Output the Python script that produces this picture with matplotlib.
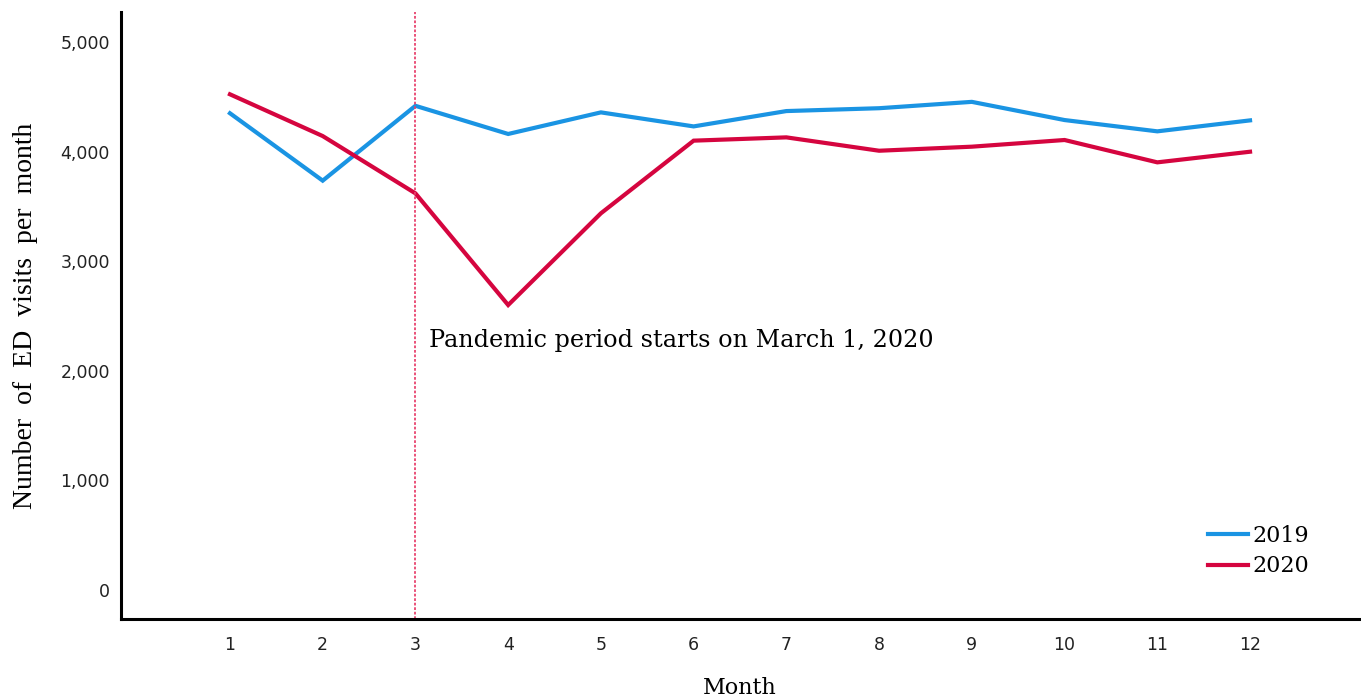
import matplotlib
matplotlib.use("Agg")
import matplotlib.pyplot as plt
from matplotlib.ticker import FuncFormatter

months = [1, 2, 3, 4, 5, 6, 7, 8, 9, 10, 11, 12]
visits_2019 = [4350, 3735, 4418, 4161, 4358, 4230, 4370, 4396, 4454, 4288, 4185, 4285]
visits_2020 = [4523, 4142, 3619, 2600, 3437, 4100, 4130, 4008, 4045, 4106, 3902, 3999]
series_labels = ["2019", "2020"]
y_ticks = [0, 1000, 2000, 3000, 4000, 5000]
annotation = "Pandemic period starts on March 1, 2020"
pandemic_month = 3

fig = plt.figure(figsize=(13.61, 7.0), dpi=100)
ax = fig.add_axes([121/1361, 81/700, (1359-121)/1361, (619-12)/700])

c2019 = "#1a94e3"
c2020 = "#d5053f"
ax.plot(months, visits_2019, color=c2019, lw=3.0, label=series_labels[0], solid_joinstyle="miter")
ax.plot(months, visits_2020, color=c2020, lw=3.0, label=series_labels[1], solid_joinstyle="miter")
ax.axvline(pandemic_month, color="#e8436e", lw=1.3, ls=(0, (1.5, 1.0)))

ax.set_xlim(-0.175, 13.175)
ax.set_ylim(-265, 5274)
ax.set_xticks(months)
ax.set_yticks(y_ticks)
ax.yaxis.set_major_formatter(FuncFormatter(lambda v, p: f"{int(v):,}"))
ax.tick_params(length=0, labelsize=12.5, colors="#222222")
ax.tick_params(axis="y", pad=8)
ax.tick_params(axis="x", pad=12)
for s in ["top", "right"]:
    ax.spines[s].set_visible(False)
for s in ["left", "bottom"]:
    ax.spines[s].set_linewidth(2.2)
    ax.spines[s].set_color("black")

serif = "Liberation Serif"
wide = "DejaVu Serif"
ax.set_ylabel("Number  of  ED  visits  per  month", fontfamily=serif, fontsize=20, labelpad=16)
ax.set_xlabel("Month", fontfamily=wide, fontsize=16, va="center")
ax.xaxis.set_label_coords(0.5, (619 - 688) / 607)

ax.text(3.15, 2272, annotation, fontfamily=wide, fontsize=17.2,
        ha="left", va="center")

leg = ax.legend(loc="center left", bbox_to_anchor=((1208-121)/1238, (700-551-81)/607),
                frameon=False, prop={"family": wide, "size": 16},
                handlelength=1.8, handletextpad=0.2, labelspacing=0.4, borderaxespad=0,
                borderpad=0)

fig.savefig("out.png", dpi=100)
